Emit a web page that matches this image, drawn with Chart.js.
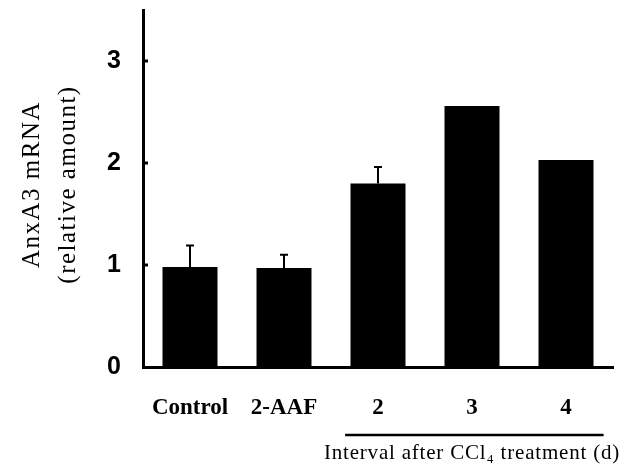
<!DOCTYPE html>
<html>
<head>
<meta charset="utf-8">
<script src="https://cdn.jsdelivr.net/npm/chart.js@4.4.0/dist/chart.umd.min.js"></script>
<style>
  html, body { margin: 0; padding: 0; background: #fff; }
  #wrap { width: 638px; height: 476px; }
</style>
</head>
<body>
<div id="wrap"><canvas id="c"></canvas></div>
<script>
const groups = ['Control', '2-AAF', '2', '3', '4'];
const means = [0.98, 0.97, 1.80, 2.56, 2.03];
const errors = [0.21, 0.13, 0.16, 0, 0];
const yTicks = [0, 1, 2, 3];
const yTitle = ['AnxA3 mRNA', '(relative amount)'];
const intervalLabel = 'Interval after CCl\u2084 treatment (d)';
const intervalGroups = ['2', '4'];

// error bars on top of the bars (upper half only)
const errorBars = {
    id: 'errorBars',
    afterDatasetsDraw(chart) {
        const ctx = chart.ctx;
        const y = chart.scales.y;
        const meta = chart.getDatasetMeta(0);
        ctx.save();
        ctx.strokeStyle = '#000';
        ctx.lineWidth = 2;
        meta.data.forEach((bar, i) => {
            if (!errors[i]) return;
            const top = y.getPixelForValue(means[i] + errors[i]);
            ctx.beginPath();
            ctx.moveTo(bar.x, bar.y);
            ctx.lineTo(bar.x, top);
            ctx.moveTo(bar.x - 4, top);
            ctx.lineTo(bar.x + 4, top);
            ctx.stroke();
        });
        ctx.restore();
    }
};

// y title, inward ticks, and the bracket under the CCl4 groups
const decorations = {
    id: 'decorations',
    afterDraw(chart) {
        const ctx = chart.ctx;
        const area = chart.chartArea;
        const x = chart.scales.x;
        const y = chart.scales.y;
        ctx.save();
        ctx.fillStyle = '#000';
        ctx.strokeStyle = '#000';

        // small inward tick marks
        ctx.lineWidth = 3;
        yTicks.forEach(v => {
            if (v === 0) return;
            const py = y.getPixelForValue(v);
            ctx.beginPath();
            ctx.moveTo(area.left, py);
            ctx.lineTo(area.left + 5, py);
            ctx.stroke();
        });

        // rotated two-line y title
        ctx.font = '25px "Liberation Serif", serif';
        ctx.letterSpacing = '1.5px';
        ctx.textAlign = 'center';
        ctx.textBaseline = 'middle';
        const cy = (area.top + area.bottom) / 2 - 4;
        [32, 68].forEach((tx, i) => {
            ctx.save();
            ctx.translate(tx, cy);
            ctx.rotate(-Math.PI / 2);
            ctx.fillText(yTitle[i], 0, 0);
            ctx.restore();
        });

        // bracket line and its label
        const step = x.getPixelForValue(1) - x.getPixelForValue(0);
        const x0 = x.getPixelForValue(groups.indexOf(intervalGroups[0])) - step * 0.35;
        const x1 = x.getPixelForValue(groups.indexOf(intervalGroups[1])) + step * 0.4;
        ctx.lineWidth = 2.5;
        ctx.beginPath();
        ctx.moveTo(x0, 435);
        ctx.lineTo(x1, 435);
        ctx.stroke();

        ctx.font = '21px "Liberation Serif", serif';
        ctx.letterSpacing = '0.8px';
        ctx.fillText(intervalLabel, x.getPixelForValue(3), 453);
        ctx.restore();
    }
};

new Chart(document.getElementById('c'), {
    type: 'bar',
    data: {
        labels: groups,
        datasets: [{
            data: means,
            backgroundColor: '#000',
            borderWidth: 0,
            barPercentage: 0.585,
            categoryPercentage: 1.0
        }]
    },
    options: {
        responsive: true,
        maintainAspectRatio: false,
        animation: false,
        events: [],
        layout: { padding: { top: 10, right: 25, left: 0, bottom: 0 } },
        plugins: {
            legend: { display: false },
            tooltip: { enabled: false }
        },
        scales: {
            x: {
                grid: { display: false },
                border: { color: '#000', width: 3 },
                ticks: {
                    color: '#000',
                    padding: 19,
                    maxRotation: 0,
                    font: { family: '"Liberation Serif", serif', size: 23, weight: 'bold' }
                },
                afterFit(scale) { scale.height = 109; }
            },
            y: {
                min: 0,
                max: 3.5,
                grid: { display: false },
                border: { color: '#000', width: 3 },
                afterBuildTicks(scale) { scale.ticks = yTicks.map(v => ({ value: v })); },
                ticks: {
                    color: '#000',
                    padding: 14,
                    font: { family: '"Liberation Sans", Arial, sans-serif', size: 25, weight: 'bold' }
                },
                afterFit(scale) {
                    scale.width = 143;
                    scale.paddingTop = 0;
                    scale.paddingBottom = 0;
                }
            }
        }
    },
    plugins: [errorBars, decorations]
});
</script>
</body>
</html>
